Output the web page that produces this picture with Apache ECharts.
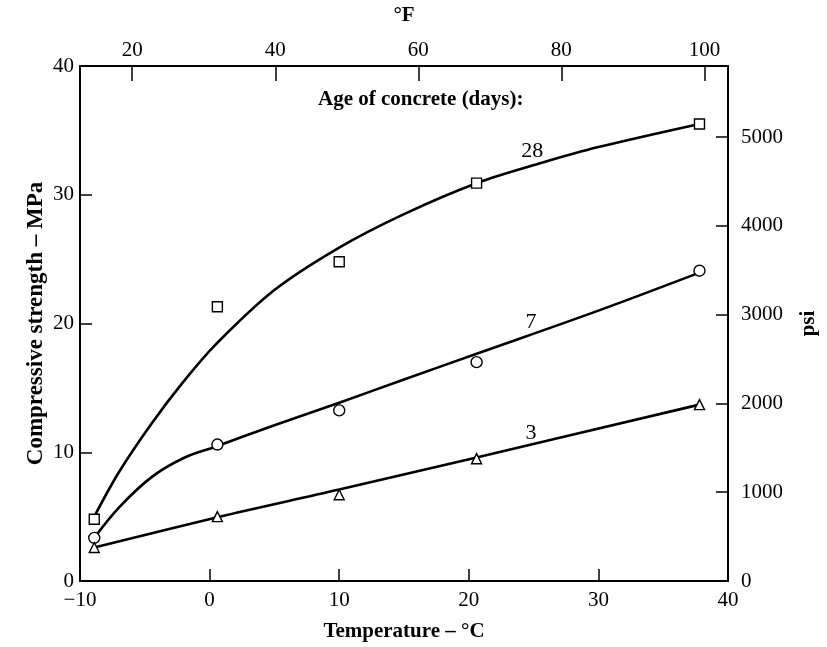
<!DOCTYPE html>
<html>
<head>
<meta charset="utf-8">
<script src="https://cdn.jsdelivr.net/npm/echarts@6/dist/echarts.min.js"></script>
<style>
html,body{margin:0;padding:0;background:#fff;}
#chart{width:827px;height:647px;}
</style>
</head>
<body>
<div id="chart"></div>
<script>
// Measured points (°C, MPa)
const pts28 = [[-8.9, 4.8], [0.6, 21.3], [10, 24.8], [20.6, 30.9], [37.8, 35.5]];
const pts7  = [[-8.9, 3.35], [0.6, 10.6], [10, 13.25], [20.6, 17.0], [37.8, 24.1]];
const pts3  = [[-8.9, 2.6], [0.6, 5.0], [10, 6.7], [20.6, 9.5], [37.8, 13.7]];

// Fitted curves (°C, MPa)
const curve28 = [[-8.9, 5.0], [-7, 8.45], [-4.5, 12.2], [-2, 15.5], [0.5, 18.4], [5, 22.6], [10, 25.9], [15, 28.5], [20.6, 30.9], [25.7, 32.5], [30, 33.7], [37.8, 35.5]];
const curve7  = [[-8.9, 3.35], [-7, 5.7], [-4.5, 8.05], [-2, 9.55], [0.5, 10.45], [5, 12.1], [10, 13.85], [15, 15.65], [20.6, 17.65], [30, 21.0], [37.8, 23.95]];
const curve3  = [[-8.9, 2.6], [0.6, 4.95], [10, 7.1], [20.6, 9.6], [37.8, 13.7]];

// Curve labels (°C, MPa, text)
const curveLabels = [[24.9, 33.4, '28'], [24.8, 20.1, '7'], [24.8, 11.5, '3']];

// Axis settings
const celsiusTicks = { min: -10, max: 40, interval: 10 };
const mpaTicks = { min: 0, max: 40, interval: 10 };
const fahrenheitRange = { min: 12.7, max: 103.3 };
const psiRange = { min: 0, max: 40 * 145.038, interval: 1000 };

const FONT = '"Liberation Serif", "DejaVu Serif", serif';
const lab = { color: '#000', fontFamily: FONT, fontSize: 21 };
const nameStyle = { color: '#000', fontFamily: FONT, fontSize: 21, fontWeight: 'bold' };
const axLine = { show: true, onZero: false, lineStyle: { color: '#000', width: 2 } };
const tick = (len) => ({ show: true, inside: true, length: len, lineStyle: { color: '#000', width: 1.5 } });
const minus = v => String(v).replace('-', '\u2212');

const chart = echarts.init(document.getElementById('chart'), null, { renderer: 'canvas' });

const lineSeries = (data) => ({
  type: 'line', data, xAxisIndex: 0, yAxisIndex: 0,
  smooth: 0.35, showSymbol: false, symbol: 'none',
  lineStyle: { color: '#000', width: 2.6 }, z: 2, silent: true
});
const ptSeries = (data, symbol, size) => ({
  type: 'scatter', data, xAxisIndex: 0, yAxisIndex: 0,
  symbol, symbolSize: size,
  itemStyle: { color: '#fff', borderColor: '#000', borderWidth: 1.4, opacity: 1 },
  z: 5, silent: true
});

chart.setOption({
  animation: false,
  backgroundColor: '#fff',
  grid: { left: 80, right: 90, top: 62, bottom: 61, containLabel: false },
  xAxis: [
    {
      type: 'value', position: 'bottom', ...celsiusTicks,
      axisLine: axLine, axisTick: tick(12),
      axisLabel: { ...lab, margin: 9, formatter: minus },
      splitLine: { show: false },
      name: 'Temperature \u2013 \u00b0C', nameLocation: 'middle', nameGap: 40, nameTextStyle: nameStyle
    },
    {
      type: 'value', position: 'top', ...fahrenheitRange, splitNumber: 5,
      axisLine: axLine, axisTick: tick(15),
      axisLabel: { ...lab, margin: 5, showMinLabel: false, showMaxLabel: false },
      splitLine: { show: false },
      name: '\u00b0F', nameLocation: 'middle', nameGap: 40, nameTextStyle: nameStyle
    }
  ],
  yAxis: [
    {
      type: 'value', position: 'left', ...mpaTicks,
      axisLine: axLine, axisTick: tick(12),
      axisLabel: { ...lab, margin: 6 },
      splitLine: { show: false },
      name: 'Compressive strength \u2013 MPa', nameLocation: 'middle', nameRotate: 90, nameGap: 32,
      nameMoveOverlap: false,
      nameTextStyle: { ...nameStyle, fontSize: 23 }
    },
    {
      type: 'value', position: 'right', ...psiRange,
      axisLine: axLine, axisTick: tick(12),
      axisLabel: { ...lab, margin: 13, showMaxLabel: false, formatter: v => String(Math.round(v)) },
      splitLine: { show: false },
      name: 'psi', nameLocation: 'middle', nameRotate: 90, nameGap: 70, nameTextStyle: nameStyle
    }
  ],
  graphic: [
    { type: 'text', left: 318, top: 89, style: { text: 'Age of concrete (days):', fill: '#000', font: 'bold 21px ' + FONT } }
  ],
  series: [
    lineSeries(curve28),
    lineSeries(curve7),
    lineSeries(curve3),
    ptSeries(pts28, 'rect', 10),
    ptSeries(pts7, 'circle', 11),
    ptSeries(pts3, 'triangle', 10),
    {
      type: 'scatter', data: curveLabels, xAxisIndex: 0, yAxisIndex: 0,
      symbolSize: 0, itemStyle: { color: '#000', opacity: 1 }, silent: true, z: 6,
      label: { show: true, position: 'inside', align: 'center', verticalAlign: 'middle',
               formatter: p => p.data[2], color: '#000', fontFamily: FONT, fontSize: 22,
               textBorderWidth: 0, opacity: 1 }
    }
  ]
});
</script>
</body>
</html>
